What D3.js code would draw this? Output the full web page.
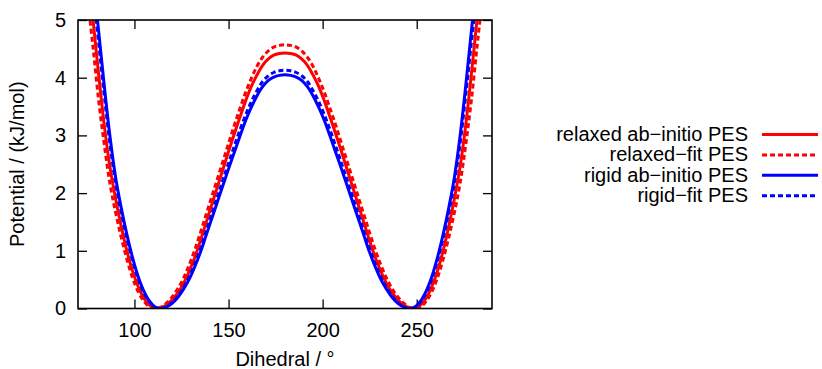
<!DOCTYPE html>
<html>
<head>
<meta charset="utf-8">
<script src="https://cdn.jsdelivr.net/npm/d3@7"></script>
<style>
  body { margin: 0; background: #fff; }
  text { font-family: "Liberation Sans", Arial, Helvetica, sans-serif; fill: #000; }
</style>
</head>
<body>
<svg id="chart" width="822" height="369"></svg>
<script>
// Dihedral angle grid (degrees)
const dihedral = [75, 78, 81, 84, 87, 90, 93, 96, 99, 102, 105, 108, 111, 114, 117, 120, 123, 126, 129, 132, 135,
  138, 141, 144, 147, 150, 153, 156, 159, 162, 165, 168, 171, 174, 177, 180,
  183, 186, 189, 192, 195, 198, 201, 204, 207, 210, 213, 216, 219, 222, 225, 228, 231, 234, 237, 240,
  243, 246, 249, 252, 255, 258, 261, 264, 267, 270, 273, 276, 279, 282, 285];

// Potential energy (kJ/mol) for each scan
const relaxedAbInitio = [5.95, 5.0, 4.05, 3.17, 2.45, 1.9, 1.42, 1.0, 0.65, 0.38, 0.18, 0.06, 0.005, 0.013, 0.06, 0.15, 0.27, 0.43, 0.64, 0.88, 1.17,
  1.48, 1.79, 2.10, 2.41, 2.72, 3.02, 3.31, 3.59, 3.84, 4.04, 4.21, 4.32, 4.39, 4.42, 4.43,
  4.42, 4.39, 4.32, 4.21, 4.04, 3.84, 3.59, 3.31, 3.02, 2.72, 2.41, 2.10, 1.79, 1.48, 1.17, 0.88, 0.64, 0.43, 0.27, 0.15,
  0.06, 0.013, 0.005, 0.06, 0.18, 0.38, 0.65, 1.0, 1.42, 1.9, 2.45, 3.17, 4.05, 5.0, 5.95];

const relaxedFit = [5.4, 4.52, 3.6, 2.83, 2.16, 1.66, 1.23, 0.85, 0.53, 0.29, 0.126, 0.026, 0.0, 0.023, 0.094, 0.20, 0.34, 0.52, 0.75, 1.01, 1.31,
  1.62, 1.93, 2.24, 2.55, 2.86, 3.17, 3.46, 3.74, 3.98, 4.19, 4.35, 4.46, 4.53, 4.56, 4.57,
  4.56, 4.53, 4.46, 4.35, 4.19, 3.98, 3.74, 3.46, 3.17, 2.86, 2.55, 2.24, 1.93, 1.62, 1.31, 1.01, 0.75, 0.52, 0.34, 0.20,
  0.094, 0.023, 0.0, 0.026, 0.126, 0.29, 0.53, 0.85, 1.23, 1.66, 2.16, 2.83, 3.6, 4.52, 5.4];

const rigidAbInitio = [6.6, 5.7, 4.8, 3.85, 2.98, 2.27, 1.74, 1.28, 0.88, 0.55, 0.30, 0.126, 0.026, 0.0, 0.026, 0.089, 0.19, 0.33, 0.50, 0.72, 0.97,
  1.26, 1.55, 1.84, 2.13, 2.42, 2.70, 2.98, 3.25, 3.48, 3.68, 3.84, 3.95, 4.01, 4.04, 4.05,
  4.04, 4.01, 3.95, 3.84, 3.68, 3.48, 3.25, 2.98, 2.70, 2.42, 2.13, 1.84, 1.55, 1.26, 0.97, 0.72, 0.50, 0.33, 0.19, 0.089,
  0.026, 0.0, 0.026, 0.126, 0.30, 0.55, 0.88, 1.28, 1.74, 2.27, 2.98, 3.85, 4.8, 5.7, 6.6];

const rigidFit = [6.4, 5.5, 4.6, 3.68, 2.85, 2.17, 1.66, 1.21, 0.83, 0.51, 0.27, 0.11, 0.02, 0.0, 0.03, 0.10, 0.21, 0.36, 0.54, 0.77, 1.03,
  1.33, 1.63, 1.93, 2.23, 2.52, 2.81, 3.09, 3.35, 3.58, 3.77, 3.93, 4.03, 4.09, 4.12, 4.13,
  4.12, 4.09, 4.03, 3.93, 3.77, 3.58, 3.35, 3.09, 2.81, 2.52, 2.23, 1.93, 1.63, 1.33, 1.03, 0.77, 0.54, 0.36, 0.21, 0.10,
  0.03, 0.0, 0.02, 0.11, 0.27, 0.51, 0.83, 1.21, 1.66, 2.17, 2.85, 3.68, 4.6, 5.5, 6.4];

const seriesNames = ["relaxed ab\u2212initio PES", "relaxed\u2212fit PES", "rigid ab\u2212initio PES", "rigid\u2212fit PES"];
const seriesValues = [relaxedAbInitio, relaxedFit, rigidAbInitio, rigidFit];
const seriesColors = ["#ff0000", "#ff0000", "#0000ff", "#0000ff"];
const seriesDashed = [false, true, false, true];

const xTicks = [100, 150, 200, 250];
const yTicks = [0, 1, 2, 3, 4, 5];
const xDomain = [70, 290];
const yDomain = [0, 5];

const margin = { left: 78, right: 330, top: 20, bottom: 60.5 };
const width = 822, height = 369;
const svg = d3.select("#chart");

const x = d3.scaleLinear().domain(xDomain).range([margin.left, width - margin.right]);
const y = d3.scaleLinear().domain(yDomain).range([height - margin.bottom, margin.top]);

const fontSize = 20;
const tickLen = 9;

// clip region for the curves
svg.append("defs").append("clipPath").attr("id", "plotClip")
  .append("rect")
  .attr("x", x.range()[0]).attr("y", y.range()[1])
  .attr("width", x.range()[1] - x.range()[0])
  .attr("height", y.range()[0] - y.range()[1]);

// axes with inward ticks on all four sides
function styleAxis(g) {
  g.select(".domain").remove();
  g.selectAll(".tick line").attr("stroke", "#000").attr("stroke-width", 1.3);
  g.selectAll(".tick text").attr("font-size", fontSize).attr("font-family", "Liberation Sans, Arial, sans-serif").attr("fill", "#000");
}

svg.append("g")
  .attr("transform", `translate(0,${y.range()[0]})`)
  .call(d3.axisBottom(x).tickValues(xTicks).tickSizeInner(-tickLen).tickSizeOuter(0).tickPadding(14))
  .call(styleAxis);

svg.append("g")
  .attr("transform", `translate(0,${y.range()[1]})`)
  .call(d3.axisTop(x).tickValues(xTicks).tickSizeInner(-tickLen).tickSizeOuter(0).tickFormat(""))
  .call(styleAxis);

svg.append("g")
  .attr("transform", `translate(${x.range()[0]},0)`)
  .call(d3.axisLeft(y).tickValues(yTicks).tickSizeInner(-tickLen).tickSizeOuter(0).tickPadding(12).tickFormat(d3.format("d")))
  .call(styleAxis);

svg.append("g")
  .attr("transform", `translate(${x.range()[1]},0)`)
  .call(d3.axisRight(y).tickValues(yTicks).tickSizeInner(-tickLen).tickSizeOuter(0).tickFormat(""))
  .call(styleAxis);

// curves
const line = d3.line()
  .x(d => x(d[0]))
  .y(d => y(d[1]))
  .curve(d3.curveCatmullRom.alpha(0.5));

const curves = svg.append("g").attr("clip-path", "url(#plotClip)");
seriesValues.forEach((vals, i) => {
  const pts = dihedral.map((a, k) => [a, vals[k]]);
  curves.append("path")
    .datum(pts)
    .attr("fill", "none")
    .attr("stroke", seriesColors[i])
    .attr("stroke-width", 3)
    .attr("stroke-dasharray", seriesDashed[i] ? "5,3" : null)
    .attr("d", line);
});

// plot frame
svg.append("rect")
  .attr("x", x.range()[0]).attr("y", y.range()[1])
  .attr("width", x.range()[1] - x.range()[0])
  .attr("height", y.range()[0] - y.range()[1])
  .attr("fill", "none").attr("stroke", "#000").attr("stroke-width", 1.6);

// axis titles
svg.append("text")
  .attr("x", (x.range()[0] + x.range()[1]) / 2)
  .attr("y", 366)
  .attr("text-anchor", "middle")
  .attr("font-size", fontSize)
  .text("Dihedral / \u00b0");

svg.append("text")
  .attr("transform", `translate(24,${(y.range()[0] + y.range()[1]) / 2}) rotate(-90)`)
  .attr("text-anchor", "middle")
  .attr("font-size", fontSize)
  .text("Potential / (kJ/mol)");

// legend
const legend = svg.append("g");
seriesNames.forEach((name, i) => {
  const ly = 134.5 + i * 20.4;
  legend.append("text")
    .attr("x", 748).attr("y", ly + 6.5)
    .attr("text-anchor", "end")
    .attr("font-size", fontSize)
    .text(name);
  legend.append("line")
    .attr("x1", 762).attr("x2", 818)
    .attr("y1", ly).attr("y2", ly)
    .attr("stroke", seriesColors[i])
    .attr("stroke-width", 3)
    .attr("stroke-dasharray", seriesDashed[i] ? "5,3" : null);
});
</script>
</body>
</html>
